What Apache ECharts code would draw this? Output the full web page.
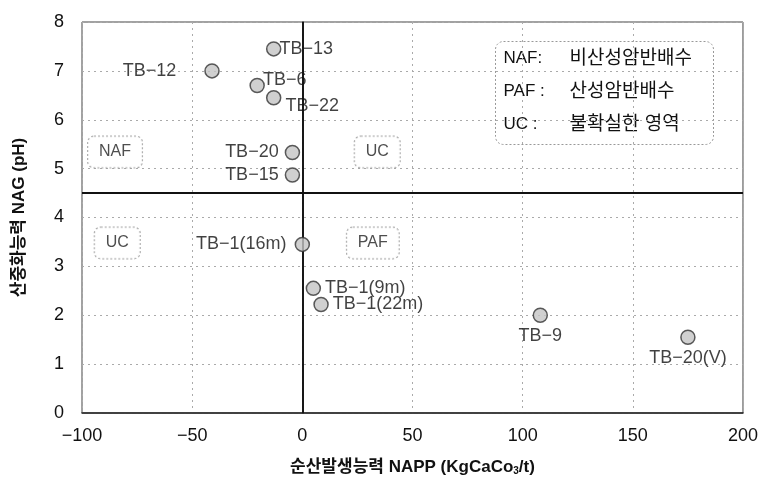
<!DOCTYPE html>
<html>
<head>
<meta charset="utf-8">
<script src="https://cdn.jsdelivr.net/npm/echarts@6/dist/echarts.min.js"></script>
<style>
  html, body { margin: 0; padding: 0; background: #fff; }
  #chart { width: 761px; height: 482px; }
</style>
</head>
<body>
<div id="chart"></div>
<script>
// sample names, NAPP (x) and NAG pH (y)
var names = ['TB-13', 'TB-12', 'TB-6', 'TB-22', 'TB-20', 'TB-15', 'TB-1(16m)', 'TB-1(9m)', 'TB-1(22m)', 'TB-9', 'TB-20(V)'];
var napp = [-13, -41, -20.5, -13, -4.5, -4.5, 0, 5, 8.5, 108, 175];
var nag = [7.45, 7.0, 6.7, 6.45, 5.33, 4.87, 3.45, 2.55, 2.22, 2.0, 1.55];
var labelPos = ['right', 'left', 'right', 'right', 'left', 'left', 'left', 'right', 'right', 'bottom', 'bottom'];

// region boxes
var regionNames = ['NAF', 'UC', 'UC', 'PAF'];
var regionX = [-85, 34, -84, 32];
var regionY = [5.34, 5.34, 3.48, 3.48];

// legend text
var legendKeys = ['NAF:', 'PAF :', 'UC :'];
var legendDesc = ['비산성암반배수', '산성암반배수', '불확실한 영역'];

var FONT = '"Liberation Sans", Arial, "Noto Sans CJK KR", sans-serif';
var KFONT = '"Liberation Sans", "Noto Sans CJK KR", sans-serif';

function minus(s) { return String(s).replace(/-/g, '\u2212'); }

var chart = echarts.init(document.getElementById('chart'));

var points = names.map(function (n, i) {
  var off = [0, 0];
  if (n === 'TB-12') off = [-24, 0];
  if (n === 'TB-22') off = [0, 8];
  if (n === 'TB-6') off = [-6, -6];
  if (n === 'TB-13') off = [-6, 0];
  if (n === 'TB-20') off = [-2, 0];
  if (n === 'TB-15') off = [-2, 0];
  if (n === 'TB-1(16m)') off = [-4, 0];
  return {
    name: n,
    value: [napp[i], nag[i]],
    label: { position: labelPos[i], offset: off }
  };
});

var regions = regionNames.map(function (n, i) {
  return { name: n, value: [regionX[i], regionY[i]] };
});

var legendChildren = [{
  type: 'rect',
  shape: { x: 0, y: 0, width: 218, height: 103, r: 8 },
  style: { fill: '#fff', stroke: '#999', lineWidth: 1, lineDash: [2, 2] }
}];
legendKeys.forEach(function (k, i) {
  legendChildren.push({
    type: 'text', x: 8, y: 17 + i * 33,
    style: { text: k, font: '17px ' + FONT, fill: '#111', verticalAlign: 'middle' }
  });
  legendChildren.push({
    type: 'text', x: 74, y: 17 + i * 33,
    style: { text: legendDesc[i], font: '19px ' + KFONT, fill: '#111', verticalAlign: 'middle' }
  });
});

var option = {
  animation: false,
  backgroundColor: '#fff',
  grid: { left: 82, right: 18, top: 22, bottom: 69, show: true, borderColor: '#444', borderWidth: 1 },
  xAxis: {
    type: 'value', min: -100, max: 200, interval: 50,
    name: '{a|순산발생능력 NAPP (KgCaCo}{s|3}{a|/t)}',
    nameLocation: 'middle', nameGap: 46,
    nameTextStyle: {
      rich: {
        a: { fontFamily: KFONT, fontSize: 17, fontWeight: 'bold', color: '#111' },
        s: { fontFamily: KFONT, fontSize: 10, fontWeight: 'bold', color: '#111', verticalAlign: 'bottom', padding: [6, 0, 0, 0] }
      }
    },
    axisLine: { show: true, onZero: false, lineStyle: { color: '#222', width: 1.5 } },
    axisTick: { show: false },
    axisLabel: { fontFamily: FONT, fontSize: 18, color: '#111', margin: 14, formatter: minus },
    splitLine: { show: true, lineStyle: { color: '#aaa', type: [2, 4], width: 1 } }
  },
  yAxis: {
    type: 'value', min: 0, max: 8, interval: 1,
    name: '산중화능력 NAG (pH)',
    nameLocation: 'middle', nameGap: 54, nameRotate: 90,
    nameTextStyle: { fontFamily: KFONT, fontSize: 17, fontWeight: 'bold', color: '#111' },
    axisLine: { show: true, lineStyle: { color: '#222', width: 1.5 } },
    axisTick: { show: false },
    axisLabel: { fontFamily: FONT, fontSize: 18, color: '#111', margin: 18 },
    splitLine: { show: true, lineStyle: { color: '#aaa', type: [2, 4], width: 1 } }
  },
  series: [
    {
      type: 'scatter',
      data: points,
      symbol: 'circle',
      symbolSize: 14,
      itemStyle: { color: '#c4c4c4', borderColor: '#333', borderWidth: 1.5 },
      label: {
        show: true,
        formatter: function (p) { return minus(p.name); },
        fontFamily: FONT, fontSize: 18, color: '#111',
        distance: 4
      },
      markLine: {
        silent: true,
        symbol: 'none',
        label: { show: false },
        lineStyle: { color: '#111', type: 'solid', width: 1.8 },
        data: [{ yAxis: 4.5 }, { xAxis: 0 }]
      },
      z: 5
    },
    {
      type: 'scatter',
      data: regions,
      symbolSize: 0,
      silent: true,
      label: {
        show: true,
        position: 'inside',
        formatter: '{b}',
        fontFamily: FONT, fontSize: 16, color: '#222',
        backgroundColor: '#fff',
        borderColor: '#999', borderType: [2, 2], borderWidth: 1, borderRadius: 6,
        padding: [8, 11, 7, 11]
      },
      z: 4
    }
  ],
  graphic: [
    { type: 'group', left: 495, top: 41, children: legendChildren }
  ]
};

chart.setOption(option);
</script>
</body>
</html>
